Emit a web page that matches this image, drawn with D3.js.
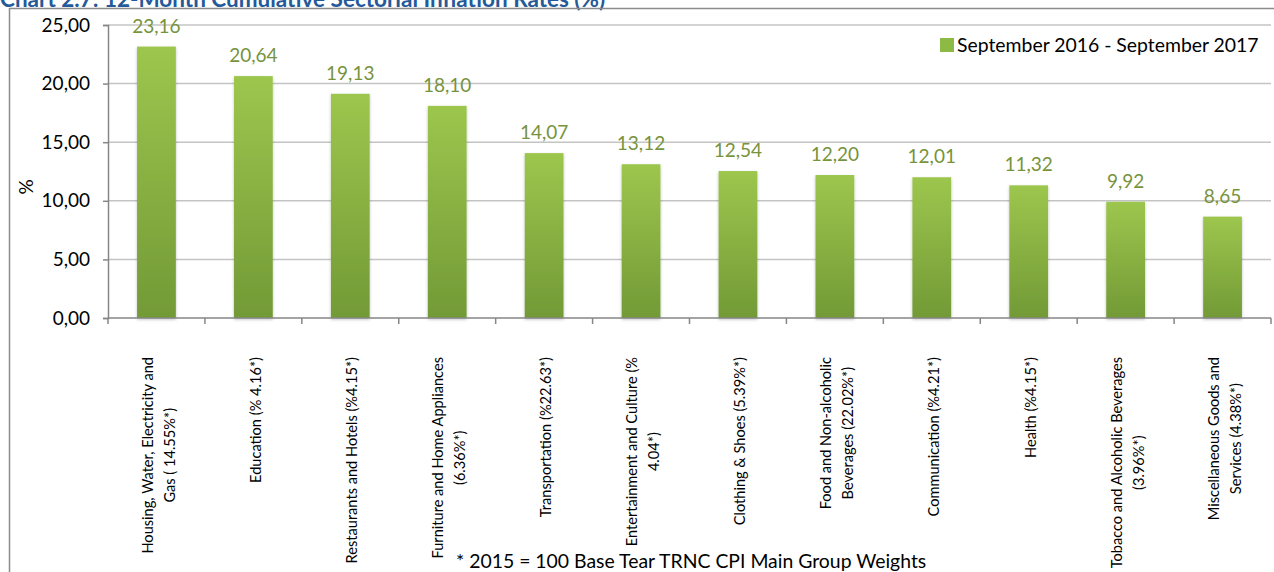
<!DOCTYPE html>
<html>
<head>
<meta charset="utf-8">
<script src="https://cdn.jsdelivr.net/npm/d3@7/dist/d3.min.js"></script>
<style>
  html, body { margin: 0; padding: 0; background: #fff; }
  svg { display: block; font-family: Lato, "Open Sans", sans-serif; }
</style>
</head>
<body>
<svg id="chart" width="1274" height="572"></svg>
<script>
const categories = [
  ["Housing, Water, Electricity and", "Gas ( 14.55%*)"],
  ["Education (% 4.16*)"],
  ["Restaurants and Hotels (%4.15*)"],
  ["Furniture and Home Appliances", "(6.36%*)"],
  ["Transportation (%22.63*)"],
  ["Entertainment and Culture (%", "4.04*)"],
  ["Clothing & Shoes (5.39%*)"],
  ["Food and Non-alcoholic", "Beverages (22.02%*)"],
  ["Communication (%4.21*)"],
  ["Health (%4.15*)"],
  ["Tobacco and Alcoholic Beverages", "(3.96%*)"],
  ["Miscellaneous Goods and", "Services (4.38%*)"]
];
const values = [23.16, 20.64, 19.13, 18.10, 14.07, 13.12, 12.54, 12.20, 12.01, 11.32, 9.92, 8.65];
const yTicks = [0, 5, 10, 15, 20, 25];
const seriesName = "September 2016 - September 2017";
const title = "Chart 2.7: 12-Month Cumulative Sectorial Inflation Rates (%)";
const footnote = "* 2015 = 100 Base Tear TRNC CPI Main Group Weights";

const svg = d3.select("#chart");
const fmt = v => d3.format(".2f")(v).replace(".", ",");

const keys = categories.map((c, i) => "c" + i);
const x = d3.scaleBand().domain(keys).range([108, 1271]).paddingInner(0.6).paddingOuter(0.3);
const y = d3.scaleLinear().domain([0, 25]).range([318, 25]);

const defs = svg.append("defs");
const grad = defs.append("linearGradient").attr("id", "barGrad")
  .attr("x1", 0).attr("y1", 0).attr("x2", 0).attr("y2", 1);
grad.append("stop").attr("offset", "0%").attr("stop-color", "#9dc64e");
grad.append("stop").attr("offset", "100%").attr("stop-color", "#729a36");
const f = defs.append("filter").attr("id", "shadow").attr("x", "-20%").attr("y", "-5%").attr("width", "140%").attr("height", "115%");
f.append("feDropShadow").attr("dx", 0).attr("dy", 1.5).attr("stdDeviation", 1.5)
  .attr("flood-color", "#000").attr("flood-opacity", 0.25);

// title
svg.append("text").attr("x", 0).attr("y", 7)
  .attr("font-weight", "bold").attr("font-size", 22.5).attr("fill", "#24599a")
  .text(title);

// outer frame
svg.append("path").attr("d", "M9.5,572 V8.5 H1274")
  .attr("fill", "none").attr("stroke", "#8c8c8c").attr("stroke-width", 1.5);

// gridlines
svg.append("g").selectAll("line").data(yTicks.filter(t => t > 0)).join("line")
  .attr("x1", 108).attr("x2", 1271)
  .attr("y1", d => y(d)).attr("y2", d => y(d))
  .attr("stroke", "#c4c4c4").attr("stroke-width", 1.5);

// y axis
const yAxis = svg.append("g").attr("transform", "translate(108,0)")
  .call(d3.axisLeft(y).tickValues(yTicks).tickFormat(fmt).tickSize(5).tickPadding(13));
yAxis.select(".domain").attr("stroke", "#868686").attr("stroke-width", 1.5);
yAxis.selectAll(".tick line").attr("stroke", "#868686").attr("stroke-width", 1.5);
yAxis.selectAll(".tick text").attr("font-size", 19).attr("fill", "#000")
  .attr("font-family", "Lato, sans-serif");

// y label
svg.append("text").attr("transform", "translate(33,187) rotate(-90)")
  .attr("text-anchor", "middle").attr("font-size", 19).attr("fill", "#000").text("%");

// bars
svg.append("g").selectAll("rect").data(values).join("rect")
  .attr("x", (d, i) => x(keys[i]))
  .attr("width", x.bandwidth())
  .attr("y", d => y(d))
  .attr("height", d => y(0) - y(d))
  .attr("fill", "url(#barGrad)")
  .attr("filter", "url(#shadow)");

// value labels
svg.append("g").selectAll("text").data(values).join("text")
  .attr("x", (d, i) => x(keys[i]) + x.bandwidth() / 2)
  .attr("y", d => y(d) - 14)
  .attr("text-anchor", "middle").attr("font-size", 19).attr("fill", "#77933c")
  .text(d => fmt(d));

// x axis
const xAxisG = svg.append("g").attr("transform", "translate(0,318)");
xAxisG.append("line").attr("x1", 108).attr("x2", 1271).attr("y1", 0).attr("y2", 0)
  .attr("stroke", "#868686").attr("stroke-width", 1.5);
const step = x.step();
const boundaries = d3.range(keys.length + 1).map(i => x(keys[0]) - x.paddingOuter() * step + i * step);
xAxisG.selectAll("line.tk").data(boundaries).join("line").attr("class", "tk")
  .attr("x1", d => d).attr("x2", d => d).attr("y1", 0).attr("y2", 6)
  .attr("stroke", "#868686").attr("stroke-width", 1.5);

// x labels
const lineH = 22;
const labelTop = 357;
categories.forEach((lines, i) => {
  const cx = x(keys[i]) + x.bandwidth() / 2 + 2;
  const g = svg.append("g").attr("transform", `translate(${cx},${labelTop}) rotate(-90)`);
  const texts = lines.map((ln, j) => g.append("text")
    .attr("font-size", 14.6).attr("fill", "#000")
    .attr("text-anchor", "middle").attr("dy", "0.35em")
    .attr("y", (j - (lines.length - 1) / 2) * lineH)
    .text(ln));
  const maxLen = d3.max(texts, t => t.node().getComputedTextLength());
  texts.forEach(t => t.attr("x", -maxLen / 2));
});

// legend
const lg = svg.append("g");
lg.append("rect").attr("x", 940).attr("y", 38).attr("width", 14).attr("height", 14).attr("fill", "#8dba45");
lg.append("text").attr("x", 957).attr("y", 52).attr("font-size", 19.4).attr("fill", "#000").text(seriesName);

// footnote
svg.append("text").attr("x", 456).attr("y", 568).attr("font-size", 19.4).attr("fill", "#000").text(footnote);
</script>
</body>
</html>
